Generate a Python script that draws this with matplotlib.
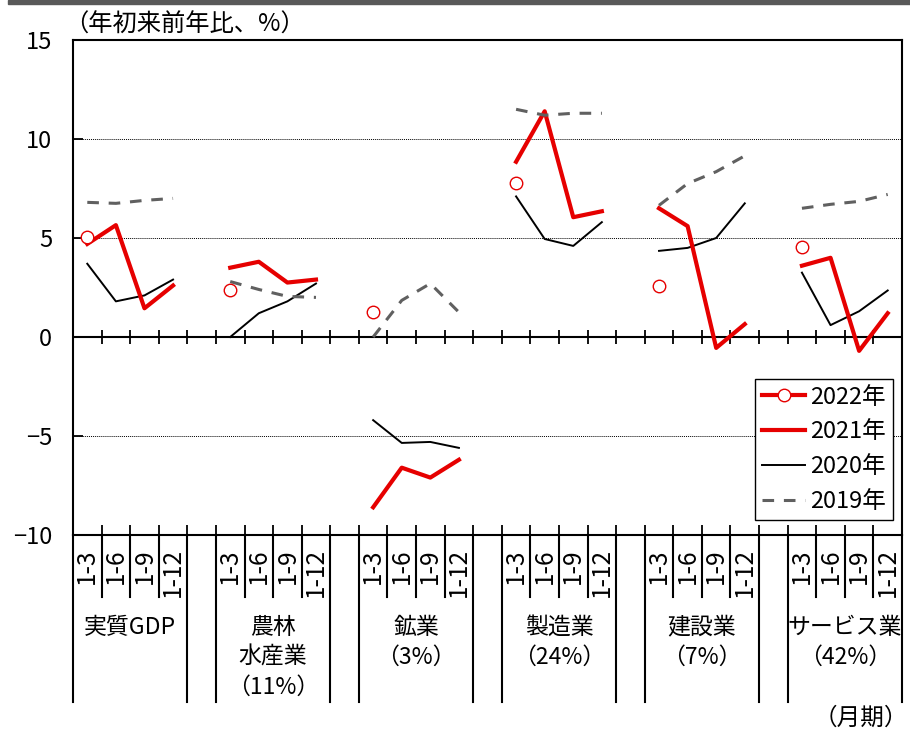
import matplotlib.pyplot as plt
from matplotlib.lines import Line2D
from matplotlib.patches import Rectangle

plt.rcParams['font.family'] = ['Noto Sans CJK JP', 'DejaVu Sans']

# 産業別 年初来前年比（%）
groups = ['実質GDP', '農林\n水産業\n（11%）', '鉱業\n（3%）', '製造業\n（24%）',
          '建設業\n（7%）', 'サービス業\n（42%）']
periods = ['1-3', '1-6', '1-9', '1-12']

y2022 = [5.05, 2.35, 1.25, 7.8, 2.6, 4.55]  # 1-3のみ
y2021 = [[4.7, 5.65, 1.45, 2.6], [3.5, 3.8, 2.75, 2.9], [-8.6, -6.6, -7.1, -6.2],
         [8.85, 11.4, 6.05, 6.35], [6.5, 5.6, -0.55, 0.65], [3.6, 4.0, -0.7, 1.2]]
y2020 = [[3.7, 1.8, 2.1, 2.9], [0.0, 1.2, 1.8, 2.7], [-4.2, -5.35, -5.3, -5.6],
         [7.1, 4.95, 4.6, 5.8], [4.35, 4.5, 5.0, 6.75], [3.25, 0.6, 1.3, 2.35]]
y2019 = [[6.8, 6.75, 6.9, 7.0], [2.8, 2.4, 2.05, 2.0], [0.0, 1.85, 2.7, 1.25],
         [11.5, 11.2, 11.3, 11.3], [6.65, 7.75, 8.35, 9.15], [6.5, 6.7, 6.85, 7.2]]

red = '#e60000'
gray = '#606060'

W, H = 910, 730
fig = plt.figure(figsize=(W / 100, H / 100), dpi=100)
ax_l, ax_r, ax_t, ax_b = 73, 902, 40, 535
ax = fig.add_axes([ax_l / W, (H - ax_b) / H, (ax_r - ax_l) / W, (ax_b - ax_t) / H])
fig.patches.append(Rectangle((8 / W, 726 / H), 1, 4 / H, transform=fig.transFigure,
                             color='#595959', zorder=0))


def yfrac(ypx):
    return (ax_b - ypx) / (ax_b - ax_t)


nslot = 5 * len(groups) - 1
for g in range(len(groups)):
    xs = [5 * g + k for k in range(len(periods))]
    ax.plot(xs, y2020[g], color='black', lw=1.4, zorder=2)
    ax.plot(xs, y2021[g], color=red, lw=3, zorder=3)
    ax.plot(xs, y2019[g], color=gray, lw=2.2, dashes=(3.8, 3.2), zorder=4)
    ax.plot(xs[0], y2022[g], 'o', mfc='white', mec=red, ms=9, mew=1, zorder=5)

ax.set_xlim(-0.5, nslot - 0.5)
ax.set_ylim(-10, 15)
ax.set_yticks(range(-10, 16, 5))
for v in (-5, 5, 10):
    ax.axhline(v, color='black', lw=0.7, ls=(0, (1, 1)), zorder=1)
ax.axhline(0, color='black', lw=1.5, zorder=1)

bounds = [i + 0.5 for i in range(nslot - 1)]
ax.vlines(bounds, -0.35, 0.35, color='black', lw=1.3, zorder=1)
ax.set_xticks(bounds)
ax.tick_params(axis='x', direction='in', length=7, width=1.3, labelbottom=False)
ax.tick_params(axis='y', direction='in', length=7, width=1.3, labelsize=17, pad=15)
for s in ax.spines.values():
    s.set_linewidth(1.5)

trans = ax.get_xaxis_transform()
edges = []
for g in range(len(groups)):
    edges += [5 * g - 0.5, 5 * g + 3.5]
for b in [-0.5] + bounds + [nslot - 0.5]:
    bottom = yfrac(702) if b in edges else yfrac(597)
    ax.plot([b, b], [0, bottom], transform=trans, clip_on=False, color='black', lw=1.5)

for g, name in enumerate(groups):
    for k, p in enumerate(periods):
        ax.text(5 * g + k, yfrac(548), p, transform=trans, rotation=90,
                ha='center', va='top', fontsize=17.5)
    for i, line in enumerate(name.split('\n')):
        ax.text(5 * g + 1.5, yfrac(627 + 30 * i), line, transform=trans,
                ha='center', va='center', fontsize=16.5)

fig.text(64 / W, 1 - 25 / H, '（年初来前年比、%）', ha='left', va='center', fontsize=17.5)
fig.text(908 / W, 1 - 718 / H, '（月期）', ha='right', va='center', fontsize=17)

handles = [
    Line2D([], [], color=red, lw=3, marker='o', mfc='white', mec=red, ms=9, mew=1),
    Line2D([], [], color=red, lw=3),
    Line2D([], [], color='black', lw=1.4),
    Line2D([], [], color=gray, lw=2.2, dashes=(3.8, 3.2)),
]
leg = ax.legend(handles, ['2022年', '2021年', '2020年', '2019年'], numpoints=1,
                loc='lower right', bbox_to_anchor=(0.989, 0.030), fontsize=17,
                fancybox=False, edgecolor='black', framealpha=1,
                handlelength=1.82, handletextpad=0.2, labelspacing=0.5,
                borderpad=0.3, borderaxespad=0)
leg.get_frame().set_linewidth(1)

fig.savefig('out.png', dpi=100)
